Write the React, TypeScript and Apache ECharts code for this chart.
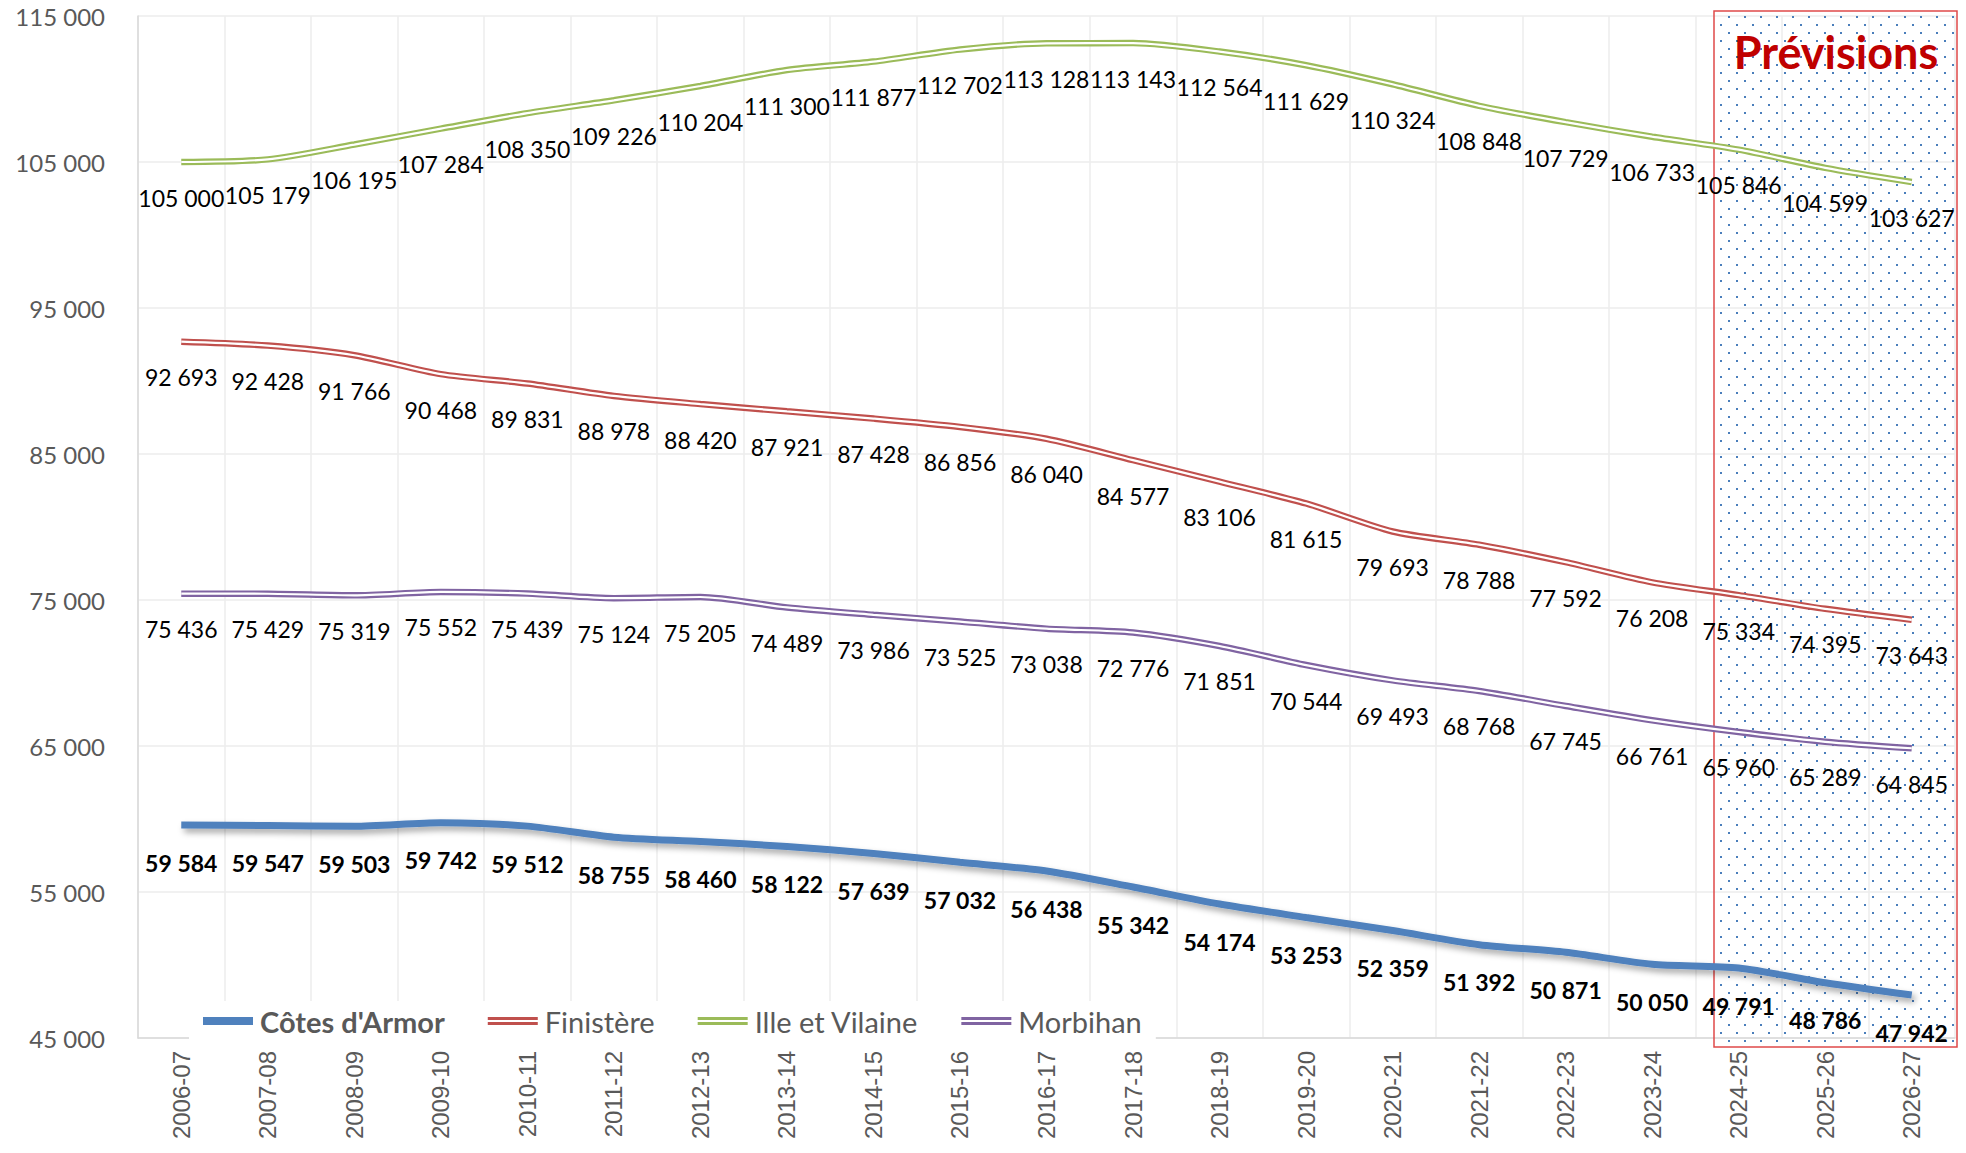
import React, { useEffect, useRef } from "react";
import * as echarts from "echarts";

const categories = [
  "2006-07", "2007-08", "2008-09", "2009-10", "2010-11", "2011-12", "2012-13",
  "2013-14", "2014-15", "2015-16", "2016-17", "2017-18", "2018-19", "2019-20",
  "2020-21", "2021-22", "2022-23", "2023-24", "2024-25", "2025-26", "2026-27",
];

const cotesArmor = [
  59584, 59547, 59503, 59742, 59512, 58755, 58460, 58122, 57639, 57032, 56438,
  55342, 54174, 53253, 52359, 51392, 50871, 50050, 49791, 48786, 47942,
];
const finistere = [
  92693, 92428, 91766, 90468, 89831, 88978, 88420, 87921, 87428, 86856, 86040,
  84577, 83106, 81615, 79693, 78788, 77592, 76208, 75334, 74395, 73643,
];
const illeEtVilaine = [
  105000, 105179, 106195, 107284, 108350, 109226, 110204, 111300, 111877, 112702,
  113128, 113143, 112564, 111629, 110324, 108848, 107729, 106733, 105846, 104599,
  103627,
];
const morbihan = [
  75436, 75429, 75319, 75552, 75439, 75124, 75205, 74489, 73986, 73525, 73038,
  72776, 71851, 70544, 69493, 68768, 67745, 66761, 65960, 65289, 64845,
];

const yMin = 45000;
const yMax = 115000;
const yInterval = 10000;

const fmt = (v: number) => String(v).replace(/\B(?=(\d{3})+(?!\d))/g, " ");

const FONT = "Lato, 'Noto Sans', sans-serif";

export default function App() {
  const ref = useRef<HTMLDivElement>(null);

  useEffect(() => {
    if (!ref.current) return;
    const chart = echarts.init(ref.current, undefined, { renderer: "svg" });

    const canvas = document.createElement("canvas");
    canvas.width = 16;
    canvas.height = 16;
    const ctx = canvas.getContext("2d");
    if (ctx) {
      ctx.fillStyle = "#4a7ebb";
      ctx.fillRect(0, 0, 2, 2);
      ctx.fillRect(8, 8, 2, 2);
    }

    const doubleSeries = (name: string, data: number[], color: string) => [
      {
        name,
        type: "line",
        data,
        smooth: 0.25,
        symbol: "circle",
        symbolSize: 1,
        itemStyle: { color: "rgba(0,0,0,0)" },
        lineStyle: { color, width: 6.5 },
        z: 3,
        label: {
          show: true,
          position: "bottom",
          distance: 21,
          color: "#000",
          fontFamily: FONT,
          fontSize: 23,
          lineHeight: 28,
          formatter: (p: any) => fmt(p.value),
        },
        emphasis: { disabled: true },
      },
      {
        name: name + " (gap)",
        type: "line",
        data,
        smooth: 0.25,
        symbol: "none",
        silent: true,
        lineStyle: { color: "#ffffff", width: 2.2 },
        z: 4,
        emphasis: { disabled: true },
      },
    ];

    const option: any = {
      animation: false,
      backgroundColor: "#ffffff",
      grid: { left: 138, right: 11, top: 16, bottom: 115, containLabel: false },
      xAxis: {
        type: "category",
        data: categories,
        boundaryGap: true,
        axisLine: { show: true, lineStyle: { color: "#d9d9d9", width: 1.5 } },
        axisTick: { show: false },
        splitLine: { show: true, lineStyle: { color: "#ececec", width: 1.5 } },
        axisLabel: {
          rotate: 90,
          margin: 13,
          color: "#595959",
          fontFamily: "'Liberation Sans', Arial, sans-serif",
          fontSize: 24,
        },
      },
      yAxis: {
        type: "value",
        min: yMin,
        max: yMax,
        interval: yInterval,
        axisLine: { show: true, lineStyle: { color: "#d9d9d9", width: 1.5 } },
        axisTick: { show: false },
        splitLine: { show: true, lineStyle: { color: "#ececec", width: 1.5 } },
        axisLabel: {
          margin: 33,
          color: "#595959",
          fontFamily: FONT,
          fontSize: 24,
          formatter: (v: number) => fmt(v),
        },
      },
      legend: {
        left: 189,
        top: 1001,
        padding: [4, 14, 4, 14],
        backgroundColor: "#ffffff",
        itemWidth: 50,
        itemHeight: 8,
        itemGap: 43,
        textStyle: {
          color: "#595959",
          fontFamily: FONT,
          fontSize: 29,
          lineHeight: 32,
          padding: [0, 0, 0, 2],
        },
        data: [
          {
            name: "Côtes d'Armor",
            icon: "path://M0,0H50V8H0Z",
            itemStyle: { color: "#4f81bd" },
            textStyle: { fontWeight: "bold" },
          },
          {
            name: "Finistère",
            icon: "path://M0,0H50V3H0ZM0,5H50V8H0Z",
            itemStyle: { color: "#c0504d" },
          },
          {
            name: "Ille et Vilaine",
            icon: "path://M0,0H50V3H0ZM0,5H50V8H0Z",
            itemStyle: { color: "#9bbb59" },
          },
          {
            name: "Morbihan",
            icon: "path://M0,0H50V3H0ZM0,5H50V8H0Z",
            itemStyle: { color: "#8064a2" },
          },
        ],
      },
      graphic: [
        {
          type: "rect",
          z: 1,
          silent: true,
          shape: { x: 1714, y: 11, width: 243, height: 1036 },
          style: {
            fill: { image: canvas, repeat: "repeat", imageWidth: 16, imageHeight: 16 },
            stroke: "#e04a4a",
            lineWidth: 1.5,
          },
        },
        {
          type: "text",
          z: 5,
          silent: true,
          x: 1836,
          y: 52,
          style: {
            text: "Prévisions",
            fill: "#c00000",
            font: `bold 45px ${FONT}`,
            align: "center",
            verticalAlign: "middle",
          },
        },
      ],
      series: [
        {
          name: "Côtes d'Armor",
          type: "line",
          data: cotesArmor,
          smooth: 0.25,
          symbol: "circle",
          symbolSize: 1,
          itemStyle: { color: "rgba(0,0,0,0)" },
          lineStyle: {
            color: "#4f81bd",
            width: 7,
            shadowColor: "rgba(0,0,0,0.35)",
            shadowBlur: 6,
            shadowOffsetX: 3,
            shadowOffsetY: 4,
          },
          z: 3,
          label: {
            show: true,
            position: "bottom",
            distance: 23,
            color: "#000",
            fontFamily: FONT,
            fontWeight: "bold",
            fontSize: 23,
            lineHeight: 28,
            formatter: (p: any) => fmt(p.value),
          },
          emphasis: { disabled: true },
        },
        ...doubleSeries("Finistère", finistere, "#c0504d"),
        ...doubleSeries("Ille et Vilaine", illeEtVilaine, "#9bbb59"),
        ...doubleSeries("Morbihan", morbihan, "#8064a2"),
      ],
    };

    chart.setOption(option);
    return () => chart.dispose();
  }, []);

  return (
    <div
      ref={ref}
      style={{ position: "absolute", left: 0, top: 0, width: 1966, height: 1153 }}
    />
  );
}
